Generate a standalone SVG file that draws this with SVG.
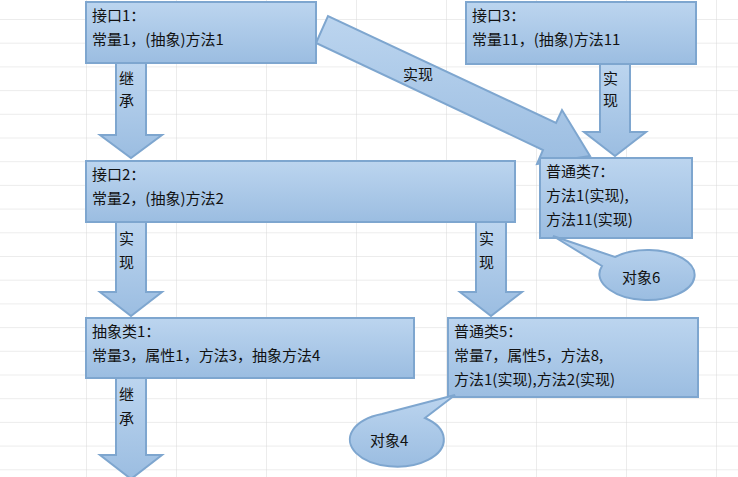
<svg xmlns="http://www.w3.org/2000/svg" width="738" height="477" viewBox="0 0 738 477">
<defs>
<linearGradient id="g" x1="0" y1="0" x2="0" y2="1"><stop offset="0" stop-color="#bcd5ef"/><stop offset="1" stop-color="#9bbde1"/></linearGradient>
<pattern id="grid" width="90" height="23.7" patternUnits="userSpaceOnUse" x="86" y="19"><path d="M0 0H90M0 0V23.7" fill="none" stroke="#d9d9d9" stroke-width="1"/></pattern>
<style>
.b{fill:url(#g);stroke:#7ea6cf;stroke-width:2}
.t{font-family:"Noto Sans CJK SC","DejaVu Sans",sans-serif;font-size:15px;fill:#111}
</style>
</defs>
<rect width="738" height="477" fill="#fff"/>
<rect width="738" height="477" fill="url(#grid)"/>
<g id="connectors">
<polygon class="b" points="116,63 146,63 146,135 162,135 131,158 100,135 116,135"/>
<polygon class="b" points="116,222 146,222 146,292 162,292 131,316 100,292 116,292"/>
<polygon class="b" points="476,222 506,222 506,292 522,292 491,316 460,292 476,292"/>
<polygon class="b" points="600,64 630,64 630,132 646,132 615,156 584,132 600,132"/>
<polygon class="b" points="116,378 146,378 146,455 162,455 131,479 100,455 116,455"/>
<polygon class="b" points="316,43 328,16 556,123 562,110 590,156 537,164 543,150"/>
<text class="t" x="119" y="84">继</text><text class="t" x="119" y="106">承</text>
<text class="t" x="119" y="244">实</text><text class="t" x="119" y="268">现</text>
<text class="t" x="479" y="244">实</text><text class="t" x="479" y="268">现</text>
<text class="t" x="603" y="84">实</text><text class="t" x="603" y="106">现</text>
<text class="t" x="119" y="400">继</text><text class="t" x="119" y="424">承</text>
<text class="t" x="403" y="80">实现</text>
</g>
<g id="n1"><rect class="b" x="86" y="2" width="230" height="61"/><text class="t" x="92" y="21">接口1：</text><text class="t" x="92" y="45">常量1，(抽象)方法1</text></g>
<g id="n3"><rect class="b" x="466" y="2" width="230" height="62"/><text class="t" x="472" y="21">接口3：</text><text class="t" x="472" y="45">常量11，(抽象)方法11</text></g>
<g id="n2"><rect class="b" x="86" y="161" width="429" height="61"/><text class="t" x="92" y="180">接口2：</text><text class="t" x="92" y="204">常量2，(抽象)方法2</text></g>
<g id="n7"><rect class="b" x="540" y="158" width="152" height="80"/><text class="t" x="546" y="177">普通类7：</text><text class="t" x="546" y="201">方法1(实现),</text><text class="t" x="546" y="225">方法11(实现)</text></g>
<g id="n4"><rect class="b" x="86" y="318" width="328" height="60"/><text class="t" x="92" y="337">抽象类1：</text><text class="t" x="92" y="361">常量3，属性1，方法3，抽象方法4</text></g>
<g id="n5"><rect class="b" x="448" y="318" width="250" height="79"/><text class="t" x="454" y="337">普通类5：</text><text class="t" x="454" y="361">常量7，属性5，方法8,</text><text class="t" x="454" y="385">方法1(实现),方法2(实现)</text></g>
<g id="o6"><path class="b" d="M553,236 L615,257 A47,25 0 1 1 610,290 A47,25 0 0 1 602,266 Z"/><text class="t" x="622" y="283">对象6</text></g>
<g id="o4"><path class="b" d="M455,395 L425,418 A47,27 0 1 1 382,414 Z"/><text class="t" x="370" y="446">对象4</text></g>
</svg>
